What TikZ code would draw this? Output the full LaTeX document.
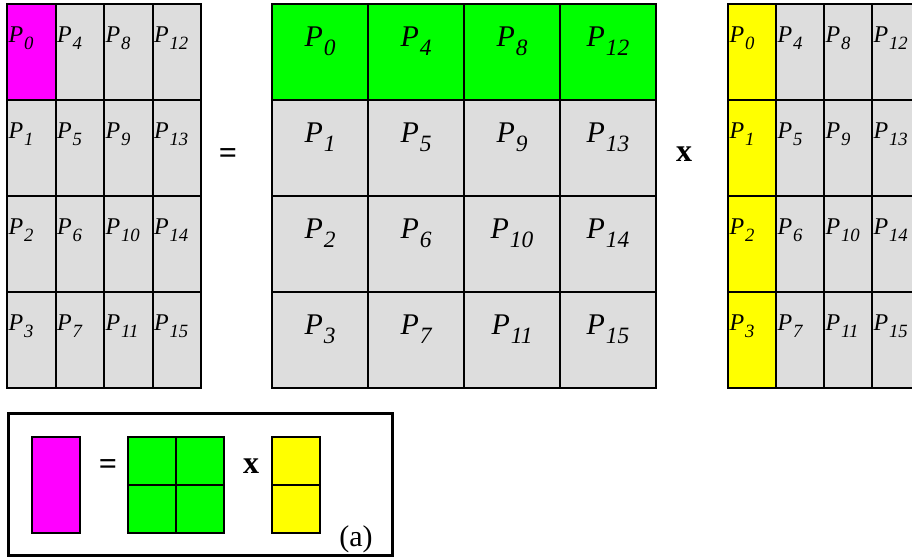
\documentclass[tikz,border=0pt]{standalone}
\usepackage{fontspec}
\setmainfont{Liberation Serif}
\usepackage{graphicx}
\usetikzlibrary{calc}

\definecolor{cellgray}{HTML}{DDDDDD}
\definecolor{magentafill}{HTML}{FF00FF}
\definecolor{greenfill}{HTML}{00FF00}
\definecolor{yellowfill}{HTML}{FFFF00}

% P with a lowered italic subscript
\newcommand{\Pn}[1]{\textit{P\kern0.03em\raisebox{-0.3em}{\scalebox{0.78}{#1}}}}

\begin{document}
\begin{tikzpicture}[x=1pt,y=-1pt,
  cell/.style={draw=black, line width=2pt, fill=cellgray, anchor=north west,
               inner sep=0pt, outer sep=0pt},
  narrow/.style={cell, minimum width=48.5pt, minimum height=96pt},
  wide/.style={cell, minimum width=96pt, minimum height=96pt},
  minicell/.style={draw=black, line width=1.8pt, anchor=north west,
               inner sep=0pt, outer sep=0pt, minimum width=48pt, minimum height=48pt},
  smalllab/.style={font=\fontsize{24}{28}\selectfont, inner sep=0pt, anchor=base west},
  biglab/.style={font=\fontsize{30}{34}\selectfont, inner sep=0pt, anchor=base},
  op/.style={font=\bfseries\fontsize{32}{36}\selectfont, inner sep=0pt}]

\clip (0,0) rectangle (912,558);
\fill[white] (0,0) rectangle (912,558);

% left result matrix
\foreach \c in {0,...,3}
  \foreach \r in {0,...,3} {
    \pgfmathtruncatemacro\k{4*\c+\r}
    \node[narrow] (L\r\c) at ({7+48.5*\c},{4+96*\r}) {};
    \node[smalllab] (Lt\r\c) at ($(L\r\c.north west)+(1.5,38)$) {\Pn{\k}};
  }
\node[narrow, fill=magentafill] (L00) at (7,4) {};
\node[smalllab] (Lt00) at ($(L00.north west)+(1.5,38)$) {\Pn{0}};

% middle matrix
\foreach \c in {0,...,3}
  \foreach \r in {0,...,3} {
    \pgfmathtruncatemacro\k{4*\c+\r}
    \ifnum\r=0
      \node[wide, fill=greenfill] (M\r\c) at ({272+96*\c},{4+96*\r}) {};
    \else
      \node[wide] (M\r\c) at ({272+96*\c},{4+96*\r}) {};
    \fi
    \node[biglab] (Mt\r\c) at ($(M\r\c.north)+(0,42)$) {\Pn{\k}};
  }

% right matrix
\foreach \c in {0,...,3}
  \foreach \r in {0,...,3} {
    \pgfmathtruncatemacro\k{4*\c+\r}
    \ifnum\c=0
      \node[narrow, fill=yellowfill] (R\r\c) at ({728+48*\c},{4+96*\r}) {};
    \else
      \node[narrow, minimum width=48pt] (R\r\c) at ({728+48*\c},{4+96*\r}) {};
    \fi
    \node[smalllab] (Rt\r\c) at ($(R\r\c.north west)+(1.5,38)$) {\Pn{\k}};
  }

% operators between the matrices
\node[op] (eq) at (228,156) {=};
\node[op] (times) at (684,154) {x};

% legend box
\node[draw=black, line width=3pt, anchor=north west, inner sep=0pt, outer sep=0pt,
      minimum width=384pt, minimum height=142pt] (box) at (8,413) {};
\node[minicell, fill=magentafill, minimum height=96pt] (mA) at (32,437) {};
\node[minicell, fill=greenfill] (mB00) at (128,437) {};
\node[minicell, fill=greenfill] (mB01) at (176,437) {};
\node[minicell, fill=greenfill] (mB10) at (128,485) {};
\node[minicell, fill=greenfill] (mB11) at (176,485) {};
\node[minicell, fill=yellowfill] (mC0) at (272,437) {};
\node[minicell, fill=yellowfill] (mC1) at (272,485) {};
\node[op] (meq) at (108,467) {=};
\node[op] (mtimes) at (251,466) {x};
\node[font=\fontsize{30}{34}\selectfont, inner sep=0pt] (tag) at (356,539) {(a)};

\end{tikzpicture}
\end{document}
